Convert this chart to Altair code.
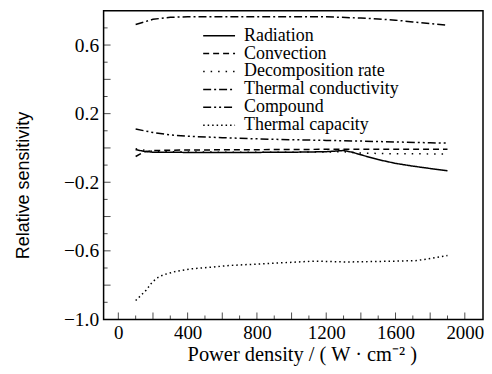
import altair as alt
import pandas as pd

# ---- data ----
series_names = ["Radiation", "Convection", "Decomposition rate",
                "Thermal conductivity", "Compound", "Thermal capacity"]

rad_x = [100, 150, 200, 400, 600, 800, 1000, 1200, 1300, 1350, 1400, 1500, 1600, 1700, 1800, 1900]
rad_y = [-0.01, -0.02, -0.025, -0.026, -0.026, -0.026, -0.025, -0.022, -0.015, -0.025, -0.04, -0.068, -0.09, -0.106, -0.12, -0.133]

conv_x = [100, 150, 200, 400, 800, 1200, 1600, 1900]
conv_y = [-0.05, -0.022, -0.015, -0.012, -0.01, -0.008, -0.008, -0.008]

dec_x = [100, 200, 400, 800, 1200, 1300, 1400, 1600, 1900]
dec_y = [-0.005, -0.02, -0.024, -0.025, -0.024, -0.022, -0.03, -0.034, -0.035]

tc_x = [100, 200, 300, 400, 800, 1200, 1400, 1500, 1600, 1700, 1800, 1900]
tc_y = [0.72, 0.75, 0.762, 0.765, 0.765, 0.765, 0.757, 0.752, 0.745, 0.735, 0.725, 0.715]

comp_x = [100, 200, 300, 400, 600, 800, 1000, 1200, 1400, 1600, 1800, 1900]
comp_y = [0.11, 0.09, 0.076, 0.068, 0.06, 0.053, 0.048, 0.044, 0.04, 0.035, 0.03, 0.028]

cap_x = [100, 130, 160, 190, 220, 260, 330, 420, 650, 940, 1130, 1320, 1600, 1720, 1800, 1900]
cap_y = [-0.89, -0.86, -0.83, -0.79, -0.76, -0.74, -0.72, -0.705, -0.685, -0.67, -0.66, -0.665, -0.66, -0.657, -0.645, -0.627]

y_label_values = [-1.0, -0.6, -0.2, 0.2, 0.6]
x_label_values = [0, 400, 800, 1200, 1600, 2000]
y_major_ticks = [-0.8, -0.6, -0.4, -0.2, 0.0, 0.2, 0.4, 0.6]
y_minor_ticks = [-0.9, -0.7, -0.5, -0.3, -0.1, 0.1, 0.3, 0.5, 0.7]
x_major_ticks = [0, 200, 400, 600, 800, 1000, 1200, 1400, 1600, 1800, 2000]
x_minor_ticks = [100, 300, 500, 700, 900, 1100, 1300, 1500, 1700, 1900]

dash_patterns = [[1, 0], [6, 4], [1.5, 6], [8, 3, 2, 3], [8, 3, 2, 3, 2, 3], [1.5, 3]]

# ---- build table ----
pairs = [(rad_x, rad_y), (conv_x, conv_y), (dec_x, dec_y),
         (tc_x, tc_y), (comp_x, comp_y), (cap_x, cap_y)]
rows = []
for name, (xs, ys) in zip(series_names, pairs):
    for xv, yv in zip(xs, ys):
        rows.append({"series": name, "x": xv, "y": yv})
df = pd.DataFrame(rows)

W, H = 381, 310
serif = "Liberation Serif, Times New Roman, Times, serif"
sans = "Liberation Sans, Arial, Helvetica, sans-serif"

xscale = alt.Scale(domain=[-85, 2105], nice=False, zero=False)
yscale = alt.Scale(domain=[-1.0, 0.8], nice=False, zero=False)

lines = alt.Chart(df).mark_line(strokeWidth=1.5, color="black").encode(
    x=alt.X("x:Q", scale=xscale,
            axis=alt.Axis(values=x_label_values, title="Power density / ( W · cm⁻² )",
                          format="d",
                          ticks=False, tickSize=0, grid=False, labelPadding=4,
                          labelFont=serif, labelFontSize=19, labelColor="black",
                          titleFont=serif, titleFontSize=20.5, titleFontWeight="normal",
                          titleColor="black", titlePadding=2, titleX=199, domain=False)),
    y=alt.Y("y:Q", scale=yscale,
            axis=alt.Axis(values=y_label_values, title="Relative sensitivity",
                          ticks=False, tickSize=0, grid=False, labelPadding=5,
                          labelExpr="replace(format(datum.value, '.1f'), '-', '− ')",
                          labelFont=serif, labelFontSize=19.5, labelColor="black",
                          titleFont=sans, titleFontSize=18,
                          titleFontWeight="normal", titleColor="black",
                          titleX=-80, titleY=175, titleBaseline="middle", domain=False)),
    strokeDash=alt.StrokeDash("series:N",
                              scale=alt.Scale(domain=series_names, range=dash_patterns),
                              sort=series_names,
                              legend=alt.Legend(title=None, orient="none", legendX=107, legendY=16,
                                                symbolType="M-2,0H2", symbolSize=256,
                                                symbolStrokeWidth=1.5, symbolStrokeColor="black",
                                                symbolFillColor="transparent",
                                                labelFont=serif, labelFontSize=18,
                                                labelColor="black", labelOffset=16,
                                                rowPadding=0, labelLimit=300)),
    detail="series:N",
)

ymaj = alt.Chart(pd.DataFrame({"v": y_major_ticks})).mark_tick(
    color="black", thickness=1, size=7).encode(
    y=alt.Y("v:Q", scale=yscale), x=alt.value(3.5))
ymin = alt.Chart(pd.DataFrame({"v": y_minor_ticks})).mark_tick(
    color="black", thickness=1, size=4).encode(
    y=alt.Y("v:Q", scale=yscale), x=alt.value(2))
xmaj = alt.Chart(pd.DataFrame({"v": x_major_ticks})).mark_tick(
    color="black", thickness=1, size=7).encode(
    x=alt.X("v:Q", scale=xscale), y=alt.value(H - 3.5))
xmin = alt.Chart(pd.DataFrame({"v": x_minor_ticks})).mark_tick(
    color="black", thickness=1, size=4).encode(
    x=alt.X("v:Q", scale=xscale), y=alt.value(H - 2))

chart = alt.layer(lines, ymaj, ymin, xmaj, xmin).properties(
    width=W, height=H,
    autosize=alt.AutoSizeParams(type="none"),
    padding={"left": 96, "top": 2, "right": 1, "bottom": 46},
    background="white",
).configure_view(stroke="black", strokeWidth=1.5)

chart.save("out.html", embed_options={"renderer": "svg", "actions": False})
